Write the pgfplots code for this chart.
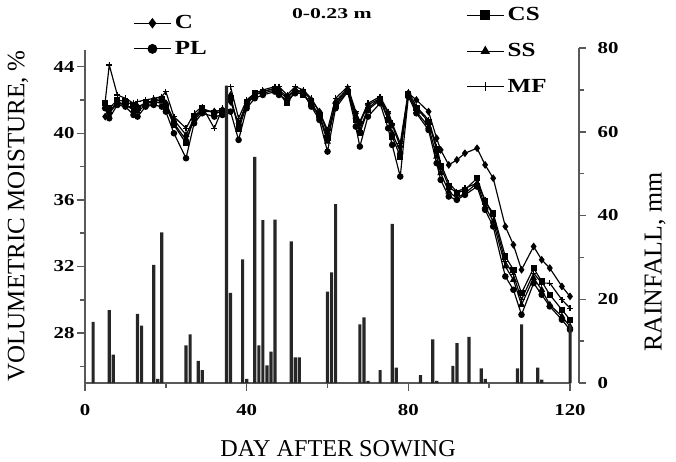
\documentclass[border=0pt]{standalone}
\usepackage{fontspec}
\setmainfont{Liberation Serif}
\newfontfamily\wideserif[FakeStretch=1.25]{Liberation Serif}
\newfontfamily\titleserif[FakeStretch=1.45]{Liberation Serif}
\usepackage{pgfplots}
\pgfplotsset{compat=1.18}
\usepackage{pgfplotstable}

\pgfplotstableread{
day C PL CS SS MF
5 41.0 41.5 41.8 41.6 41.9
6 41.2 40.9 41.5 41.3 44.1
8 41.8 41.7 42.0 41.9 42.3
10 41.7 41.6 41.9 41.7 42.1
12 41.5 41.1 41.7 41.4 41.8
13 41.6 41.0 41.5 41.3 41.9
15 41.8 41.6 41.8 41.7 42.0
17 42.0 41.7 41.9 41.8 42.1
19 42.1 41.6 42.0 41.9 42.2
20 41.8 41.3 41.6 41.8 42.5
22 40.6 40.0 40.5 40.8 41.0
25 39.6 38.5 39.4 39.9 40.3
27 40.8 40.6 41.0 40.9 41.2
29 41.3 41.2 41.5 41.4 41.6
32 41.3 41.0 41.2 41.3 40.3
34 41.4 41.1 41.3 41.4 41.5
35 nan nan nan nan nan
36 41.9 41.3 42.1 42.3 42.8
38 40.6 39.6 40.4 40.2 40.9
40 41.8 41.5 41.9 41.7 42.0
42 42.3 42.1 42.4 42.3 42.4
44 42.5 42.3 42.4 42.5 42.6
47 42.7 42.5 42.6 42.7 42.8
48 42.6 42.3 42.4 42.5 42.8
50 42.2 42.0 41.8 42.1 42.3
52 42.6 42.4 42.5 42.6 42.8
54 42.5 42.4 42.3 42.4 42.6
56 42.0 41.6 41.8 41.7 42.1
58 41.3 40.8 41.1 41.0 41.3
60 40.0 38.9 39.7 39.5 40.2
62 41.8 41.5 41.7 41.9 42.1
65 42.6 42.5 42.5 42.7 42.8
67 41.2 40.4 40.8 41.0 41.3
68 40.6 39.2 40.0 40.2 40.7
70 41.7 41.0 41.4 41.5 41.8
73 42.1 41.8 42.0 42.1 42.2
75 41.2 40.3 40.8 40.9 41.3
76 40.5 39.3 39.8 40.0 40.6
78 39.2 37.4 38.6 38.9 39.4
80 42.4 42.2 42.3 42.4 42.5
82 42.0 41.2 41.5 41.3 41.6
85 41.3 40.2 40.7 40.4 40.8
87 39.7 38.2 39.0 38.6 39.2
88 39.0 37.2 38.0 37.6 38.2
90 38.1 36.2 36.8 36.5 37.0
92 38.4 36.0 36.4 36.1 36.5
94 38.8 36.3 36.6 36.4 36.7
97 39.1 36.8 37.3 37.0 37.0
99 38.1 35.4 35.9 35.6 36.0
101 37.3 34.4 35.2 34.7 35.0
104 34.4 31.4 32.6 32.0 32.3
106 33.3 30.6 31.8 31.2 31.5
108 31.8 29.1 30.4 29.7 30.0
111 33.2 31.0 31.9 31.3 31.6
113 32.4 30.3 31.1 30.6 31.0
115 31.9 29.6 30.3 29.7 31.0
118 30.8 28.8 29.4 29.0 30.0
120 30.2 28.2 28.8 28.4 29.5
}\moist

\pgfplotstableread{
day rain
2 14.6
6 17.4
7 6.8
13 16.5
14 13.7
17 28.2
18 1.0
19 36.0
25 9.0
26 11.6
28 5.3
29 3.1
35 71.0
36 21.5
39 29.5
40 1.0
42 54.0
43 9.0
44 38.9
45 4.2
46 7.5
47 39.0
51 33.8
52 6.1
53 6.1
60 21.8
61 26.4
62 42.7
68 14.0
69 15.7
70 0.5
73 3.1
76 38.0
77 3.7
83 1.9
86 10.4
87 0.5
91 4.1
92 9.5
95 11.0
98 3.5
99 1.0
107 3.5
108 14.0
112 3.7
113 0.8
120 13.8
}\rain

\pgfplotsset{
  legimg/.style={legend image code/.code={\draw[mark repeat=2,mark phase=2,##1,mark size=2.6pt] plot coordinates {(0cm,0cm) (0.39cm,0cm) (0.78cm,0cm)};}},
}

\begin{document}
\begin{tikzpicture}
\useasboundingbox (-51pt,-46.8pt) rectangle (354.6pt,229.8pt);
\begin{axis}[
  scale only axis, width=291pt, height=199.8pt,
  xmin=0, xmax=120, ymin=25, ymax=45,
  enlargelimits=false,
  axis x line*=bottom, axis y line*=left,
  axis line style={black!65, line width=0.9pt, -},
  xtick={0,40,80,120}, minor xtick={20,60,100},
  ytick={28,32,36,40,44}, minor ytick={26,30,34,38,42},
  tick align=outside,
  major tick length=4.8pt, minor tick length=3pt,
  tick style={black!65, line width=0.9pt},
  tick label style={font=\wideserif\bfseries\fontsize{10}{12}\selectfont},
  xticklabel style={yshift=-4.5pt},
  yticklabel style={xshift=2pt},
  /pgf/number format/assume math mode=true,
  xlabel={DAY AFTER SOWING},
  xlabel style={font=\fontsize{14.5}{17}\selectfont, at={(0.522,-0.198)}, anchor=center},
  ylabel={VOLUMETRIC MOISTURE, \%},
  ylabel style={font=\fontsize{15}{18}\selectfont, at={(-0.138,0.502)}, anchor=center},
  title={0-0.23 m},
  every axis title shift=0pt,
  title style={font=\titleserif\bfseries\fontsize{9}{11}\selectfont, at={(0.509,1.096)}, anchor=base},
  legimg,
  legend style={draw=none, fill=none, at={(0.099,1.042)}, anchor=west,
    font=\wideserif\bfseries\fontsize{12}{14}\selectfont, row sep=2pt, inner sep=0pt},
  legend cell align=left,
  unbounded coords=jump,
  clip=false,
]
\addplot[black, line width=0.7pt, mark=diamond*, mark size=1.8pt, mark options={solid}] table[x=day,y=C]{\moist};
\addlegendentry{C}
\addplot[black, line width=0.7pt, mark=*, mark size=1.6pt, mark options={solid}] table[x=day,y=PL]{\moist};
\addlegendentry{PL}
\addplot[black, line width=0.7pt, mark=square*, mark size=1.5pt, mark options={solid}, forget plot] table[x=day,y=CS]{\moist};
\addplot[black, line width=0.7pt, mark=triangle*, mark size=1.7pt, mark options={solid}, forget plot] table[x=day,y=SS]{\moist};
\addplot[black, line width=0.7pt, mark=+, mark size=1.8pt, mark options={solid}, forget plot] table[x=day,y=MF]{\moist};
\end{axis}
\begin{axis}[
  scale only axis, width=296.4pt, height=201pt,
  xmin=0, xmax=122.2, ymin=0, ymax=80,
  enlargelimits=false,
  axis x line=none, axis y line*=right,
  axis line style={black!65, line width=0.9pt, -},
  ytick={0,20,40,60,80}, minor ytick={10,30,50,70},
  tick align=outside,
  major tick length=4.2pt, minor tick length=3pt,
  tick style={black!65, line width=0.9pt},
  tick label style={font=\wideserif\bfseries\fontsize{10}{12}\selectfont},
  yticklabel style={xshift=3.5pt},
  /pgf/number format/assume math mode=true,
  ylabel={RAINFALL, mm},
  ylabel style={font=\fontsize{15.5}{18}\selectfont, at={(1.154,0.361)}, anchor=center},
  legimg,
  legend style={draw=none, fill=none, at={(0.771,0.991)}, anchor=west,
    font=\wideserif\bfseries\fontsize{12}{14}\selectfont, row sep=8pt, inner sep=0pt},
  legend cell align=left,
  clip=false,
]
\addplot[ybar, bar width=1.9pt, fill=black!85, draw=none, forget plot] table[x=day,y=rain]{\rain};
\addlegendimage{black, line width=0.7pt, mark=square*, mark size=1.5pt, mark options={solid}}
\addlegendentry{CS}
\addlegendimage{black, line width=0.7pt, mark=triangle*, mark size=1.7pt, mark options={solid}}
\addlegendentry{SS}
\addlegendimage{black, line width=0.7pt, mark=+, mark size=1.8pt, mark options={solid}}
\addlegendentry{MF}
\end{axis}
\end{tikzpicture}
\end{document}
